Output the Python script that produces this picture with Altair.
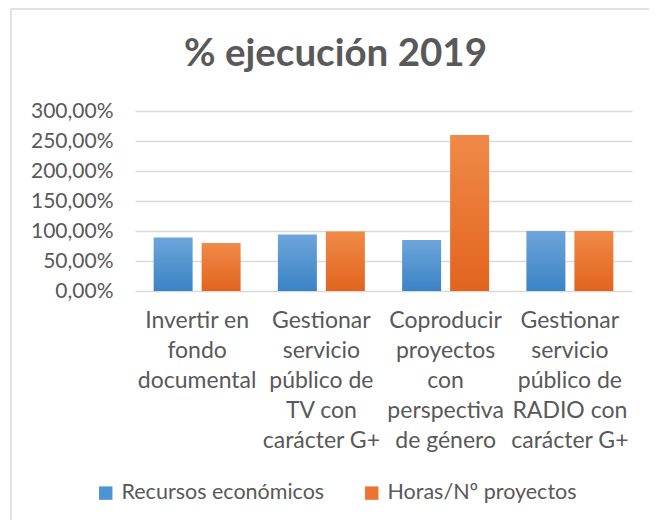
import altair as alt
import pandas as pd

categories = [
    "Invertir en|fondo|documental",
    "Gestionar|servicio|público de|TV con|carácter G+",
    "Coproducir|proyectos|con|perspectiva|de género",
    "Gestionar|servicio|público de|RADIO con|carácter G+",
]
series = ["Recursos económicos", "Horas/Nº proyectos"]
recursos = [89, 94, 85, 100]
horas = [80, 99, 260, 100]
legend_colors = ["#4E93D2", "#ED7430"]
grad_top = ["#6DA5DB", "#F08A48"]
grad_bottom = ["#3A83C5", "#E2641E"]
y_ticks = [0, 50, 100, 150, 200, 250, 300]

rows = []
for c, r, h in zip(categories, recursos, horas):
    rows.append({"cat": c, "serie": series[0], "val": r})
    rows.append({"cat": c, "serie": series[1], "val": h})
df = pd.DataFrame(rows)

FONT = "Lato"
GRAY = "#595959"

x_enc = alt.X("cat:N", sort=categories, title=None,
              scale=alt.Scale(paddingInner=0.3, paddingOuter=0.15),
              axis=alt.Axis(labelExpr="split(datum.value, '|')", labelAngle=0,
                            labelFontSize=23, labelLineHeight=30, labelColor=GRAY,
                            labelFont=FONT, domain=False, ticks=False, grid=False,
                            labelPadding=18, labelBaseline="top"))
xoff_enc = alt.XOffset("serie:N", sort=series,
                       scale=alt.Scale(domain=series, paddingInner=0.1875, paddingOuter=0))
y_enc = alt.Y("val:Q", title=None,
              scale=alt.Scale(domain=[0, 300], nice=False),
              axis=alt.Axis(values=y_ticks,
                            labelExpr="replace(format(datum.value, '.2f'), '.', ',') + '%'",
                            labelFontSize=21, labelColor=GRAY, labelFont=FONT,
                            domain=False, ticks=False, labelPadding=22,
                            gridColor="#d9d9d9", gridWidth=1.5))

base = alt.Chart(df)

layers = []
for i, s in enumerate(series):
    grad = alt.Gradient(
        gradient="linear",
        stops=[alt.GradientStop(color=grad_top[i], offset=0),
               alt.GradientStop(color=grad_bottom[i], offset=1)],
        x1=0, x2=0, y1=0, y2=1,
    )
    layers.append(
        base.transform_filter(alt.datum.serie == s)
        .mark_bar(fill=grad)
        .encode(x=x_enc, xOffset=xoff_enc, y=y_enc)
    )

legend_layer = base.mark_bar(opacity=0).encode(
    x=x_enc, xOffset=xoff_enc, y=y_enc,
    color=alt.Color("serie:N", sort=series,
                    scale=alt.Scale(domain=series, range=legend_colors),
                    legend=alt.Legend(title=None, orient="none", direction="horizontal",
                                      legendX=-40, legendY=371, symbolType="square",
                                      symbolSize=180, symbolStrokeWidth=0,
                                      symbolOpacity=1, labelLimit=0,
                                      labelFontSize=21.5, labelColor=GRAY, labelFont=FONT,
                                      columnPadding=36, symbolOffset=0, labelOffset=5)),
)

one = pd.DataFrame({"a": [0]})
left_line = alt.Chart(one).mark_rule(color="#d9d9d9", strokeWidth=1.5).encode(
    x=alt.value(-124), y=alt.value(-102), y2=alt.value(420))
top_line = alt.Chart(one).mark_rule(color="#d9d9d9", strokeWidth=1.5).encode(
    x=alt.value(-124), x2=alt.value(514), y=alt.value(-102))

chart = alt.layer(left_line, top_line, legend_layer, *layers).properties(
    width=497, height=180,
    background="white",
    title=alt.TitleParams("% ejecución 2019", fontSize=38.5, font=FONT, fontWeight="bold",
                          color=GRAY, dx=-48, dy=66, offset=0, anchor="middle"),
    autosize=alt.AutoSizeParams(type="none"),
    padding={"left": 127, "top": 103, "right": 17, "bottom": 229},
).configure_view(stroke="transparent", strokeWidth=0)

chart.save("out.html", embed_options={"renderer": "svg", "actions": False})
